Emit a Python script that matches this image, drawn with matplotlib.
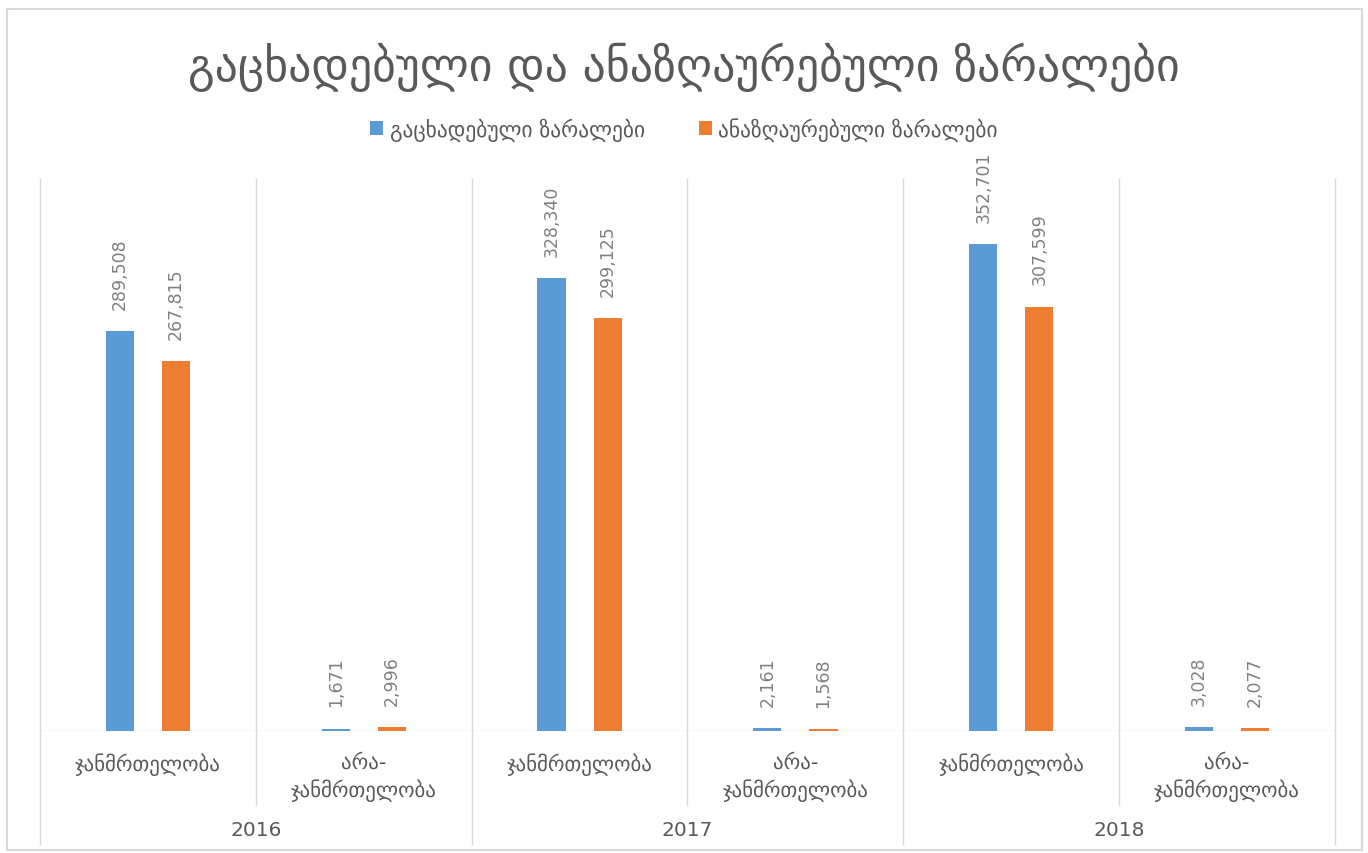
import numpy as np
import matplotlib.pyplot as plt
from matplotlib.patches import Rectangle

plt.rcParams['font.family'] = ['DejaVu Sans']

years = ['2016', '2017', '2018']
categories = ['ჯანმრთელობა', 'არა-\nჯანმრთელობა']
declared = [289508, 1671, 328340, 2161, 352701, 3028]
reimbursed = [267815, 2996, 299125, 1568, 307599, 2077]
series_names = ['გაცხადებული ზარალები', 'ანაზღაურებული ზარალები']
colors = ['#5b9bd5', '#ed7d31']

grid_col = '#d9d9d9'
text_col = '#595959'

fig = plt.figure(figsize=(13.68, 8.54), dpi=100)
ax = fig.add_axes([40 / 1368, 1 - 732 / 854, 1295 / 1368, 552 / 854])

x = np.arange(len(declared))
w = 0.13
b1 = ax.bar(x - w, declared, w, color=colors[0], label=series_names[0])
b2 = ax.bar(x + w, reimbursed, w, color=colors[1], label=series_names[1])

for bars in (b1, b2):
    for r in bars:
        ax.annotate(f'{int(r.get_height()):,}', (r.get_x() + r.get_width() / 2, r.get_height()),
                    xytext=(0, 16), textcoords='offset points', rotation=90,
                    ha='center', va='bottom', fontsize=12.5, color='#808080')

ax.set_xlim(-0.5, len(declared) - 0.5)
ax.set_ylim(0, 400000)
ax.set_yticks([])
ax.set_xticks([])
for s in ax.spines.values():
    s.set_visible(False)

trans = ax.get_xaxis_transform()
# separators between categories and years
for i in range(len(declared) + 1):
    xb = i - 0.5
    ybot = -0.205 if i % 2 == 0 else -0.134
    ax.plot([xb, xb], [ybot, 1], color=grid_col, lw=1, transform=trans, clip_on=False, zorder=0)
ax.axhline(0, color=grid_col, lw=1, zorder=0)

# category labels
for i in range(len(declared)):
    ax.text(i, -0.038, categories[i % 2], transform=trans, ha='center', va='top',
            fontsize=15, color=text_col, linespacing=1.35)
for j, yr in enumerate(years):
    ax.text(2 * j + 0.5, -0.178, yr, transform=trans, ha='center', va='center',
            fontsize=14.5, color=text_col)

fig.text(0.5, 1 - 67 / 854, 'გაცხადებული და ანაზღაურებული ზარალები', ha='center', va='center',
         fontsize=33, color=text_col)
fig.legend(loc='center', bbox_to_anchor=(0.5, 1 - 130 / 854), ncol=2, frameon=False,
           fontsize=15.5, handlelength=0.6, handleheight=0.6, columnspacing=2.5, handletextpad=0.3,
           labelcolor=text_col)

fig.patches.append(Rectangle((7 / 1368, 3 / 854), 1355 / 1368, 841 / 854, transform=fig.transFigure,
                             fill=False, edgecolor=grid_col, lw=1.5))

fig.savefig('out.png', dpi=100)
